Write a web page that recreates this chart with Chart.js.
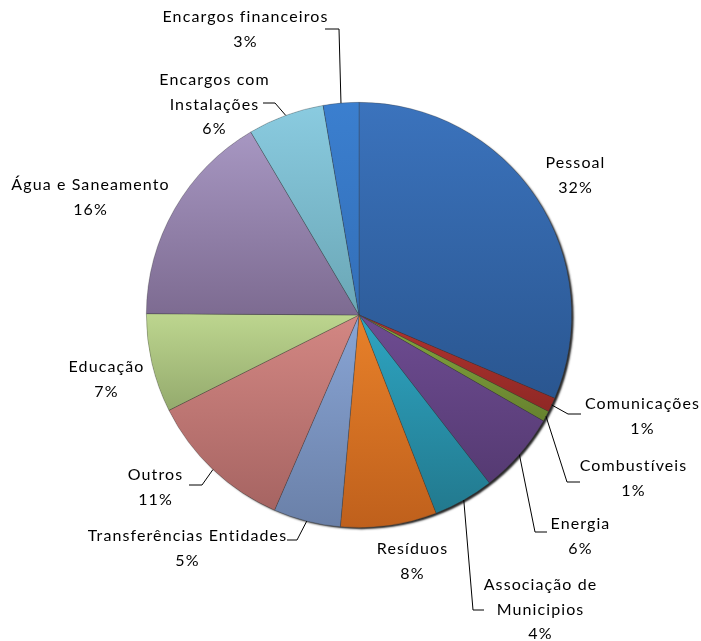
<!DOCTYPE html>
<html>
<head>
<meta charset="utf-8">
<script src="https://cdn.jsdelivr.net/npm/chart.js@4/dist/chart.umd.min.js"></script>
<style>
  html, body { margin: 0; padding: 0; background: #fff; }
  #wrap { width: 701px; height: 641px; }
</style>
</head>
<body>
<div id="wrap"><canvas id="grafico" width="701" height="641"></canvas></div>
<script>
// Categorias e valores
const categorias = ['Pessoal', 'Comunicações', 'Combustíveis', 'Energia', 'Associação de Municipios',
  'Resíduos', 'Transferências Entidades', 'Outros', 'Educação', 'Água e Saneamento',
  'Encargos com Instalações', 'Encargos financeiros'];
const valores = [31.4, 1.1, 0.8, 6.2, 4.6, 7.3, 5.1, 11.1, 7.5, 16.4, 5.8, 2.7];
const percentagens = ['32%', '1%', '1%', '6%', '4%', '8%', '5%', '11%', '7%', '16%', '6%', '3%'];

// Cores (topo / base do gradiente de cada fatia)
const coresTopo = ['#3b73bd', '#b0332f', '#86a840', '#6e4c92', '#2ea5c2', '#e8812a', '#89a5d5', '#d38783', '#bdd68f', '#a797c2', '#8acbe0', '#3b7fcf'];
const coresBase = ['#2a5690', '#8f2825', '#66812e', '#553a72', '#22798e', '#bf601c', '#6a80a8', '#a66462', '#94aa6d', '#7d6b91', '#6aa6b5', '#336fb8'];

// Posições das etiquetas e linhas de chamada
const etiquetas = [
  { linhas: ['Pessoal'], x: 575, y: 163 },
  { linhas: ['Comunicações'], x: 642, y: 404, cotovelo: [568, 414], fim: [581, 414] },
  { linhas: ['Combustíveis'], x: 633, y: 466, cotovelo: [567, 482], fim: [580, 482] },
  { linhas: ['Energia'], x: 580, y: 524, cotovelo: [535, 532], fim: [547, 532] },
  { linhas: ['Associação de', 'Municipios'], x: 540, y: 585, cotovelo: [473, 610], fim: [484, 610] },
  { linhas: ['Resíduos'], x: 412, y: 549 },
  { linhas: ['Transferências Entidades'], x: 187, y: 536, cotovelo: [297, 540], fim: [287, 540] },
  { linhas: ['Outros'], x: 155, y: 475, cotovelo: [202, 485], fim: [189, 485] },
  { linhas: ['Educação'], x: 106, y: 367 },
  { linhas: ['Água e Saneamento'], x: 90, y: 185 },
  { linhas: ['Encargos com', 'Instalações'], x: 214, y: 80, cotovelo: [275, 103], fim: [263, 103] },
  { linhas: ['Encargos financeiros'], x: 245, y: 17, cotovelo: [339, 29], fim: [325, 29] }
];

const FONTE = '16px Lato';

// limites verticais de uma fatia (para o gradiente de cada fatia)
function limitesFatia(i, cy, r) {
  const total = valores.reduce((s, v) => s + v, 0);
  let acum = 0;
  for (let k = 0; k < i; k++) acum += valores[k];
  const a0 = -Math.PI / 2 + acum / total * 2 * Math.PI;
  const a1 = a0 + valores[i] / total * 2 * Math.PI;
  const ys = [cy, cy + Math.sin(a0) * r, cy + Math.sin(a1) * r];
  [Math.PI / 2, 3 * Math.PI / 2, -Math.PI / 2].forEach(ang => {
    if (ang > a0 && ang < a1) ys.push(cy + Math.sin(ang) * r);
  });
  return [Math.min(...ys), Math.max(...ys)];
}

const pluginSombra = {
  id: 'sombra',
  beforeDatasetsDraw(chart) {
    const arco = chart.getDatasetMeta(0).data[0];
    if (!arco) return;
    const ctx = chart.ctx;
    ctx.save();
    ctx.shadowColor = 'rgba(0,0,0,0.85)';
    ctx.shadowBlur = 2;
    ctx.shadowOffsetX = 2.5;
    ctx.shadowOffsetY = 2;
    ctx.fillStyle = '#000';
    ctx.beginPath();
    ctx.arc(arco.x, arco.y, arco.outerRadius - 0.5, 0, Math.PI * 2);
    ctx.fill();
    ctx.restore();
  }
};

const pluginEtiquetas = {
  id: 'etiquetas',
  afterDraw(chart) {
    const ctx = chart.ctx;
    const meta = chart.getDatasetMeta(0);
    ctx.save();
    ctx.font = FONTE;
    ctx.letterSpacing = '1.1px';
    ctx.fillStyle = '#000';
    ctx.textAlign = 'center';
    ctx.textBaseline = 'middle';
    etiquetas.forEach((e, i) => {
      const linhas = e.linhas.concat([percentagens[i]]);
      linhas.forEach((t, k) => ctx.fillText(t, e.x + 0.5, e.y + k * 24.5));
      if (e.cotovelo) {
        const a = meta.data[i];
        const meio = (a.startAngle + a.endAngle) / 2;
        ctx.strokeStyle = '#000';
        ctx.lineWidth = 1;
        ctx.beginPath();
        ctx.moveTo(a.x + Math.cos(meio) * a.outerRadius, a.y + Math.sin(meio) * a.outerRadius);
        ctx.lineTo(e.cotovelo[0], e.cotovelo[1]);
        ctx.lineTo(e.fim[0], e.fim[1]);
        ctx.stroke();
      }
    });
    ctx.restore();
  }
};

new Chart(document.getElementById('grafico'), {
  type: 'pie',
  data: {
    labels: categorias,
    datasets: [{
      data: valores,
      backgroundColor: (c) => {
        const area = c.chart.chartArea;
        if (!area) return coresTopo[c.dataIndex];
        const cy = (area.top + area.bottom) / 2;
        const r = Math.min(area.right - area.left, area.bottom - area.top) / 2;
        const [y0, y1] = limitesFatia(c.dataIndex, cy, r);
        const g = c.chart.ctx.createLinearGradient(0, y0, 0, y1);
        g.addColorStop(0, coresTopo[c.dataIndex]);
        g.addColorStop(1, coresBase[c.dataIndex]);
        return g;
      },
      borderColor: 'rgba(60,60,60,0.45)',
      borderWidth: 0.7
    }]
  },
  options: {
    responsive: false,
    animation: false,
    layout: { padding: { left: 146, right: 129, top: 102, bottom: 113 } },
    plugins: {
      legend: { display: false },
      tooltip: { enabled: false }
    }
  },
  plugins: [pluginSombra, pluginEtiquetas]
});
</script>
</body>
</html>
